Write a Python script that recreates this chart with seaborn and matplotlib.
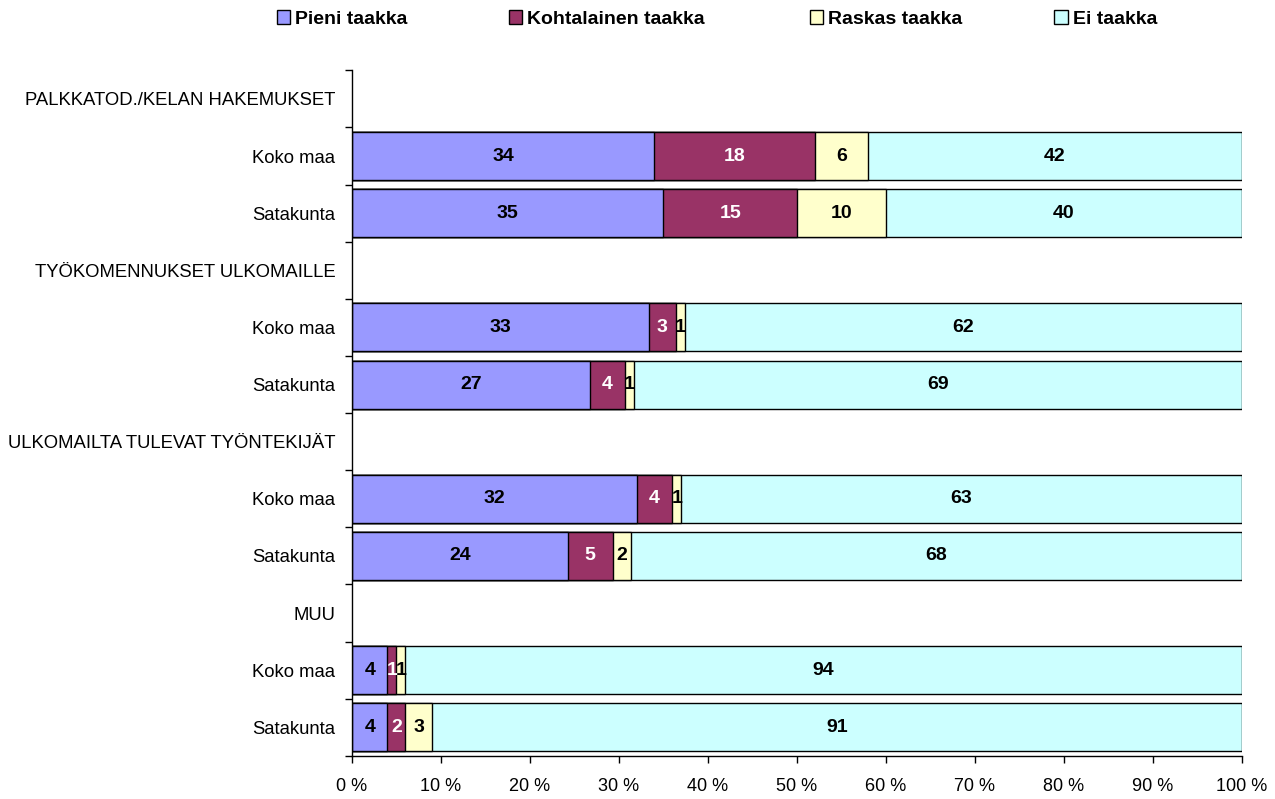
import numpy as np
import pandas as pd
import matplotlib
matplotlib.use("Agg")
import matplotlib.pyplot as plt
import seaborn as sns
from matplotlib.patches import Patch

# Row labels, top to bottom (group headers have no bar)
row_labels = ["PALKKATOD./KELAN HAKEMUKSET", "Koko maa", "Satakunta",
              "TYÖKOMENNUKSET ULKOMAILLE", "Koko maa", "Satakunta",
              "ULKOMAILTA TULEVAT TYÖNTEKIJÄT", "Koko maa", "Satakunta",
              "MUU", "Koko maa", "Satakunta"]

series = ["Pieni taakka", "Kohtalainen taakka", "Raskas taakka", "Ei taakka"]
colors = ["#9999FF", "#993366", "#FFFFCC", "#CCFFFF"]
text_colors = ["black", "white", "black", "black"]

# values for the bar rows
bar_rows = [1, 2, 4, 5, 7, 8, 10, 11]
pieni = [34, 35, 33, 27, 32, 24, 4, 4]
kohtalainen = [18, 15, 3, 4, 4, 5, 1, 2]
raskas = [6, 10, 1, 1, 1, 2, 1, 3]
ei = [42, 40, 62, 69, 63, 68, 94, 91]

df = pd.DataFrame({"row": [f"r{i}" for i in bar_rows],
                   series[0]: pieni, series[1]: kohtalainen,
                   series[2]: raskas, series[3]: ei})
order = [f"r{i}" for i in range(len(row_labels))]

# 100 % stacked: normalise each row
vals = df[series].to_numpy(dtype=float)
shares = vals / vals.sum(axis=1, keepdims=True)
cum = np.cumsum(shares, axis=1)

plt.rcParams["font.family"] = ["Liberation Sans", "DejaVu Sans"]
fig = plt.figure(figsize=(12.75, 7.99), dpi=100)
ax = fig.add_axes([0.276, 0.054, 0.698, 0.858])

# draw cumulative layers from the widest down so they stack
for k in range(len(series) - 1, -1, -1):
    layer = pd.DataFrame({"row": df["row"], "x": cum[:, k]})
    sns.barplot(data=layer, x="x", y="row", order=order, orient="h",
                color=colors[k], saturation=1, width=0.84,
                edgecolor="black", linewidth=1.0, ax=ax, errorbar=None)

# value labels
for i, r in enumerate(bar_rows):
    left = 0.0
    for k in range(len(series)):
        ax.text(left + shares[i, k] / 2, r, f"{int(vals[i, k])}",
                ha="center", va="center", fontsize=14, fontweight="bold",
                color=text_colors[k])
        left += shares[i, k]

ax.set_xlim(0, 1)
ax.set_ylim(len(row_labels) - 0.5, -0.5)
ax.set_xlabel("")
ax.set_ylabel("")

ticks = np.linspace(0, 1, 11)
ax.set_xticks(ticks)
ax.set_xticklabels([f"{int(round(t * 100))} %" for t in ticks], fontsize=13)
ax.tick_params(axis="x", length=5, width=1, pad=11)

ax.set_yticks(np.arange(-0.5, len(row_labels), 1.0))
ax.set_yticklabels([])
ax.set_yticks(np.arange(len(row_labels)), minor=True)
ax.set_yticklabels(row_labels, minor=True, fontsize=13.3)
ax.tick_params(axis="y", which="major", length=5, width=1)
ax.tick_params(axis="y", which="minor", length=0, pad=12)

for s in ["top", "right"]:
    ax.spines[s].set_visible(False)
for s in ["left", "bottom"]:
    ax.spines[s].set_color("black")
    ax.spines[s].set_linewidth(1)

# legend entries spread across the top like the original
legend_x = [0.217, 0.399, 0.635, 0.827]
for c, name, lx in zip(colors, series, legend_x):
    fig.legend([Patch(facecolor=c, edgecolor="black", linewidth=1)], [name],
               loc="center left", bbox_to_anchor=(lx, 0.976), frameon=False,
               handlelength=0.7, handleheight=0.7, handletextpad=0.25,
               borderpad=0, borderaxespad=0,
               prop={"size": 14, "weight": "bold"})

fig.savefig("out.png", dpi=100)
